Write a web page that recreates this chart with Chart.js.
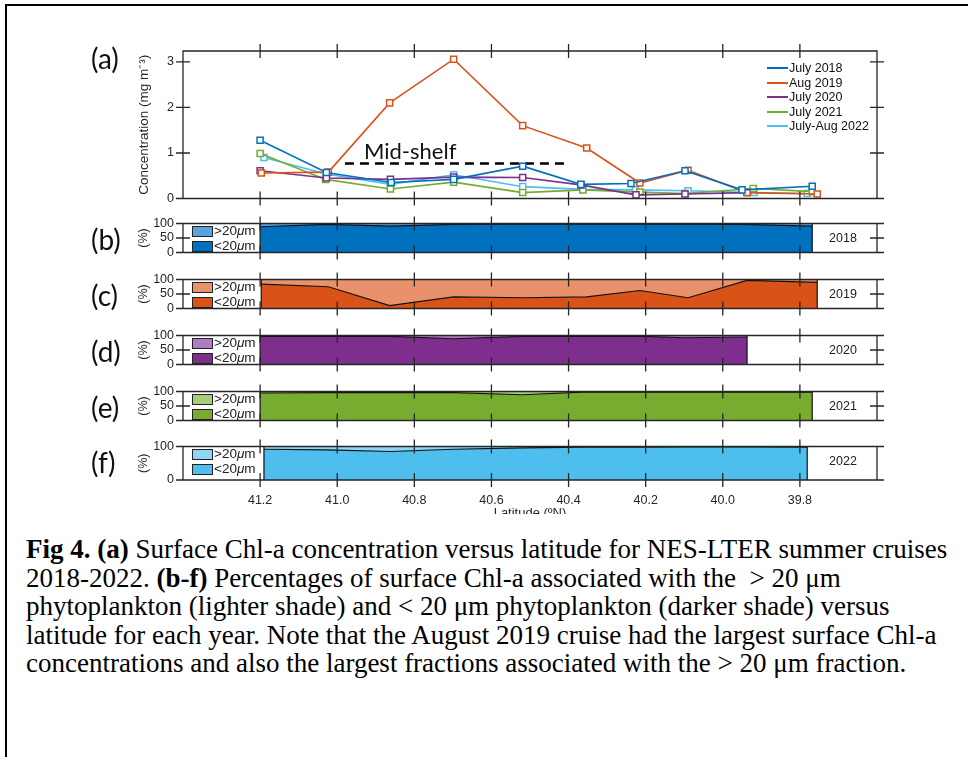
<!DOCTYPE html>
<html><head><meta charset="utf-8">
<script src="https://cdn.jsdelivr.net/npm/chart.js@4.4.0/dist/chart.umd.min.js"></script>
<style>
html,body{margin:0;padding:0;background:#fff;}
body{width:968px;height:757px;overflow:hidden;position:relative;font-family:"Liberation Sans",Arial,sans-serif;color:#262626;}
.abs{position:absolute;}
canvas{position:absolute;left:0;}
.plab{position:absolute;font-family:Lato,"Open Sans",sans-serif;font-size:28px;color:#111;line-height:30px;}
.leg{position:absolute;font-size:12.5px;line-height:14px;color:#111;white-space:nowrap;}
.legline{position:absolute;height:2px;width:21px;}
.box{position:absolute;width:19px;height:9px;border:1px solid #222;}
.slab{position:absolute;font-size:13.5px;line-height:14px;color:#222;white-space:nowrap;}
.year{position:absolute;left:813px;width:60px;text-align:center;font-size:12.5px;color:#222;}
#caption{position:absolute;left:26px;top:535px;font-family:"Liberation Serif","Times New Roman",serif;font-size:27px;line-height:28.5px;color:#000;white-space:nowrap;}
</style></head>
<body>
<div class="abs" style="left:5px;top:4px;width:1000px;height:800px;border-left:2px solid #000;border-top:2px solid #000;"></div>

<canvas id="cA" width="968" height="215" style="top:0px"></canvas>
<canvas id="cB" width="968" height="62" style="top:207px"></canvas>
<canvas id="cC" width="968" height="62" style="top:263px"></canvas>
<canvas id="cD" width="968" height="62" style="top:319px"></canvas>
<canvas id="cE" width="968" height="62" style="top:375px"></canvas>
<canvas id="cF" width="968" height="80" style="top:430px"></canvas>

<div id="overlay"></div>
<div id="caption">
<div><b>Fig 4. (a)</b> Surface Chl-a concentration versus latitude for NES-LTER summer cruises</div>
<div>2018-2022. <b>(b-f)</b> Percentages of surface Chl-a associated with the&nbsp; &gt; 20 μm</div>
<div>phytoplankton (lighter shade) and &lt; 20 μm phytoplankton (darker shade) versus</div>
<div>latitude for each year. Note that the August 2019 cruise had the largest surface Chl-a</div>
<div>concentrations and also the largest fractions associated with the &gt; 20 μm fraction.</div>
</div>

<script>
// ---------------- data ----------------
const latTicks = [41.2, 41.0, 40.8, 40.6, 40.4, 40.2, 40.0, 39.8];
const concTicks = [0, 1, 2, 3];
const pctTicks = [0, 50, 100];
const seriesNames = ['July 2018', 'Aug 2019', 'July 2020', 'July 2021', 'July-Aug 2022'];
const yearLabels = ['2018', '2019', '2020', '2021', '2022'];
const panelLetters = ['(b)', '(c)', '(d)', '(e)', '(f)'];

const lat2018 = [41.20, 41.028, 40.86, 40.698, 40.519, 40.368, 40.238, 40.098, 39.950, 39.768];
const conc2018 = [1.28, 0.57, 0.35, 0.42, 0.71, 0.31, 0.33, 0.61, 0.19, 0.27];
const lat2019 = [41.197, 41.023, 40.864, 40.698, 40.519, 40.353, 40.215, 40.09, 39.937, 39.755];
const conc2019 = [0.56, 0.58, 2.10, 3.06, 1.60, 1.11, 0.34, 0.62, 0.13, 0.10];
const lat2020 = [41.20, 41.028, 40.862, 40.698, 40.519, 40.368, 40.225, 40.098, 39.937];
const conc2020 = [0.61, 0.45, 0.42, 0.47, 0.46, 0.30, 0.08, 0.10, 0.13];
const lat2021 = [41.20, 41.03, 40.862, 40.698, 40.519, 40.363, 40.215, 40.098, 39.921, 39.768];
const conc2021 = [0.99, 0.42, 0.21, 0.36, 0.13, 0.19, 0.14, 0.11, 0.22, 0.15];
const lat2022 = [41.19, 41.028, 40.862, 40.698, 40.519, 40.363, 40.227, 40.09, 39.919, 39.781];
const conc2022 = [0.90, 0.54, 0.31, 0.52, 0.26, 0.20, 0.19, 0.17, 0.13, 0.11];

// percent of surface Chl-a in the < 20 um fraction
const pct2018 = [89, 97, 91, 97, 98, 98, 98, 98, 97, 91];
const pct2019 = [84, 75, 10, 40, 37, 40, 62, 37, 97, 90];
const pct2020 = [97, 97, 97, 89, 97, 97, 98, 92, 95];
const pct2021 = [95, 96, 96, 96, 89, 98, 98, 98, 98, 98];
const pct2022 = [92, 90, 85, 92, 96, 98, 98, 99, 99, 98];

const midShelfLat = [40.98, 40.41];
const midShelfConc = [0.77, 0.77];

// ---------------- styling ----------------
const lineColors = ['#0072BD', '#D95319', '#7E2F8E', '#77AC30', '#4DBEEE'];
const darkFill = ['#0070BF', '#D95319', '#7E2F8E', '#77AC30', '#4DBEEE'];
const lightFill = ['#5AA2DC', '#E8916B', '#B07CC0', '#A7CD7B', '#8FD6F4'];
const panelTops = [219, 275, 331, 387, 442];
const PANEL_H = 38;
const LEFT_PAD = 132, AXIS_LEFT = 183, RIGHT_PAD = 91;
const latMin = 39.6, latMax = 41.4;

Chart.defaults.font.family = "'Liberation Sans', Arial, sans-serif";
Chart.defaults.font.size = 12;
Chart.defaults.color = '#262626';

const matlabAxes = {
  id: 'matlabAxes',
  afterDraw(chart) {
    const {ctx, chartArea: a, scales: {x, y}} = chart;
    const L = 7;
    ctx.save();
    ctx.strokeStyle = '#262626';
    ctx.lineWidth = 1.3;
    ctx.beginPath();
    ctx.rect(a.left, a.top, a.right - a.left, a.bottom - a.top);
    x.ticks.forEach(t => {
      const px = x.getPixelForValue(t.value);
      ctx.moveTo(px, a.top - L); ctx.lineTo(px, a.top + L);
      ctx.moveTo(px, a.bottom - L); ctx.lineTo(px, a.bottom + L);
    });
    y.ticks.forEach(t => {
      const py = y.getPixelForValue(t.value);
      ctx.moveTo(a.left - L, py); ctx.lineTo(a.left + L, py);
      ctx.moveTo(a.right - L, py); ctx.lineTo(a.right + L, py);
    });
    ctx.stroke();
    ctx.restore();
  }
};

const areaEdges = {
  id: 'areaEdges',
  afterDatasetsDraw(chart) {
    const meta = chart.getDatasetMeta(0);
    const pts = meta.data;
    if (!pts.length) return;
    const y = chart.scales.y, {ctx} = chart;
    ctx.save();
    ctx.strokeStyle = '#111';
    ctx.lineWidth = 1.2;
    ctx.beginPath();
    [pts[0], pts[pts.length - 1]].forEach(p => {
      ctx.moveTo(p.x, y.getPixelForValue(0));
      ctx.lineTo(p.x, y.getPixelForValue(100));
    });
    ctx.stroke();
    ctx.restore();
  }
};

function scalesFor(cfg) {
  return {
    x: {
      type: 'linear', reverse: true, min: latMin, max: latMax,
      grid: {display: false, drawTicks: false}, border: {display: false},
      ticks: {display: !!cfg.xLabels, padding: cfg.xPad || 0, maxRotation: 0, autoSkip: false,
              font: {size: 12.5}, callback: v => Number(v).toFixed(1)},
      afterBuildTicks: s => { s.ticks = latTicks.map(v => ({value: v})); },
      afterFit: s => { s.height = cfg.xHeight; }
    },
    y: {
      type: 'linear', min: cfg.yMin, max: cfg.yMax, stacked: !!cfg.stacked,
      grid: {display: false, drawTicks: false}, border: {display: false},
      ticks: {padding: 9, font: {size: 12.5}},
      afterBuildTicks: s => { s.ticks = cfg.yTicks.map(v => ({value: v})); },
      title: {display: true, text: cfg.yTitle, font: {size: cfg.titleSize || 12.5}, color: '#262626', padding: {top: 4, bottom: 4}},
      afterFit: s => { s.width = AXIS_LEFT - LEFT_PAD; }
    }
  };
}

const commonOpts = {
  responsive: false, animation: false, events: [],
  plugins: {legend: {display: false}, tooltip: {enabled: false}}
};

// ---------------- panel (a) ----------------
const latsA = [lat2018, lat2019, lat2020, lat2021, lat2022];
const concA = [conc2018, conc2019, conc2020, conc2021, conc2022];
const dsA = seriesNames.map((name, i) => ({
  label: name,
  data: latsA[i].map((lat, j) => ({x: lat, y: concA[i][j]})),
  borderColor: lineColors[i], borderWidth: 1.6,
  pointStyle: 'rect', pointRadius: 4.3, pointBorderWidth: 1.5,
  pointBackgroundColor: '#fff', pointBorderColor: lineColors[i],
  tension: 0, fill: false
}));
dsA.push({
  label: 'Mid-shelf',
  data: midShelfLat.map((lat, j) => ({x: lat, y: midShelfConc[j]})),
  borderColor: '#000', borderWidth: 2.6, borderDash: [9, 6], pointRadius: 0, fill: false
});
new Chart(document.getElementById('cA'), {
  type: 'line',
  data: {datasets: dsA},
  options: Object.assign({}, commonOpts, {
    layout: {padding: {top: 51, left: LEFT_PAD, right: RIGHT_PAD, bottom: 0}},
    scales: scalesFor({yMin: 0, yMax: 3.24, yTicks: concTicks, yTitle: 'Concentration (mg m⁻³)', titleSize: 13.5, xHeight: 13})
  }),
  plugins: [matlabAxes]
});

// ---------------- panels (b)-(f) ----------------
const pctAll = [pct2018, pct2019, pct2020, pct2021, pct2022];
const canvasIds = ['cB', 'cC', 'cD', 'cE', 'cF'];
pctAll.forEach((pct, i) => {
  const lats = latsA[i];
  const last = i === 4;
  new Chart(document.getElementById(canvasIds[i]), {
    type: 'line',
    data: {datasets: [
      {label: '<20μm', data: lats.map((lat, j) => ({x: lat, y: pct[j]})),
       backgroundColor: darkFill[i], borderColor: '#111', borderWidth: 1.1,
       pointRadius: 0, tension: 0, fill: 'origin'},
      {label: '>20μm', data: lats.map((lat, j) => ({x: lat, y: 100 - pct[j]})),
       backgroundColor: lightFill[i], borderColor: '#111', borderWidth: 1.1,
       pointRadius: 0, tension: 0, fill: '-1'}
    ]},
    options: Object.assign({}, commonOpts, {
      layout: {padding: {top: 12, left: LEFT_PAD, right: RIGHT_PAD, bottom: 0}},
      scales: scalesFor({yMin: 0, yMax: 100, yTicks: pctTicks, yTitle: '(%)', stacked: true,
                         xHeight: last ? 30 : 12, xLabels: last, xPad: 13})
    }),
    plugins: [areaEdges, matlabAxes]
  });
});

// ---------------- text overlays ----------------
const ov = document.getElementById('overlay');
function add(html, cls, style) {
  const d = document.createElement('div');
  d.className = cls; d.innerHTML = html; d.style.cssText = style; ov.appendChild(d);
  return d;
}
add('(a)', 'plab', 'left:91px;top:43px;');
panelTops.forEach((t, i) => {
  add(panelLetters[i], 'plab', `left:91px;top:${t + 5}px;`);
  add('', 'box', `left:192px;top:${t + 7}px;background:${lightFill[i]};`);
  add('', 'box', `left:192px;top:${t + 22}px;background:${darkFill[i]};`);
  add('&gt;20<i>μ</i>m', 'slab', `left:214px;top:${t + 5}px;`);
  add('&lt;20<i>μ</i>m', 'slab', `left:214px;top:${t + 20}px;`);
  add(yearLabels[i], 'year', `top:${t}px;height:${PANEL_H}px;line-height:${PANEL_H}px;`);
});
const legRows = [68, 82.5, 97, 111.5, 126];
seriesNames.forEach((n, i) => {
  add('', 'legline', `left:767px;top:${legRows[i] - 1}px;background:${lineColors[i]};`);
  add(n, 'leg', `left:789px;top:${legRows[i] - 7}px;`);
});
add('Mid-shelf', 'plab', 'left:364px;top:136px;font-size:22px;');
add('<div style="line-height:15px;font-size:13px;">Latitude (ºN)</div>', 'abs',
  'left:430px;width:200px;text-align:center;top:505px;height:9px;overflow:hidden;color:#262626;');
</script>
</body></html>
